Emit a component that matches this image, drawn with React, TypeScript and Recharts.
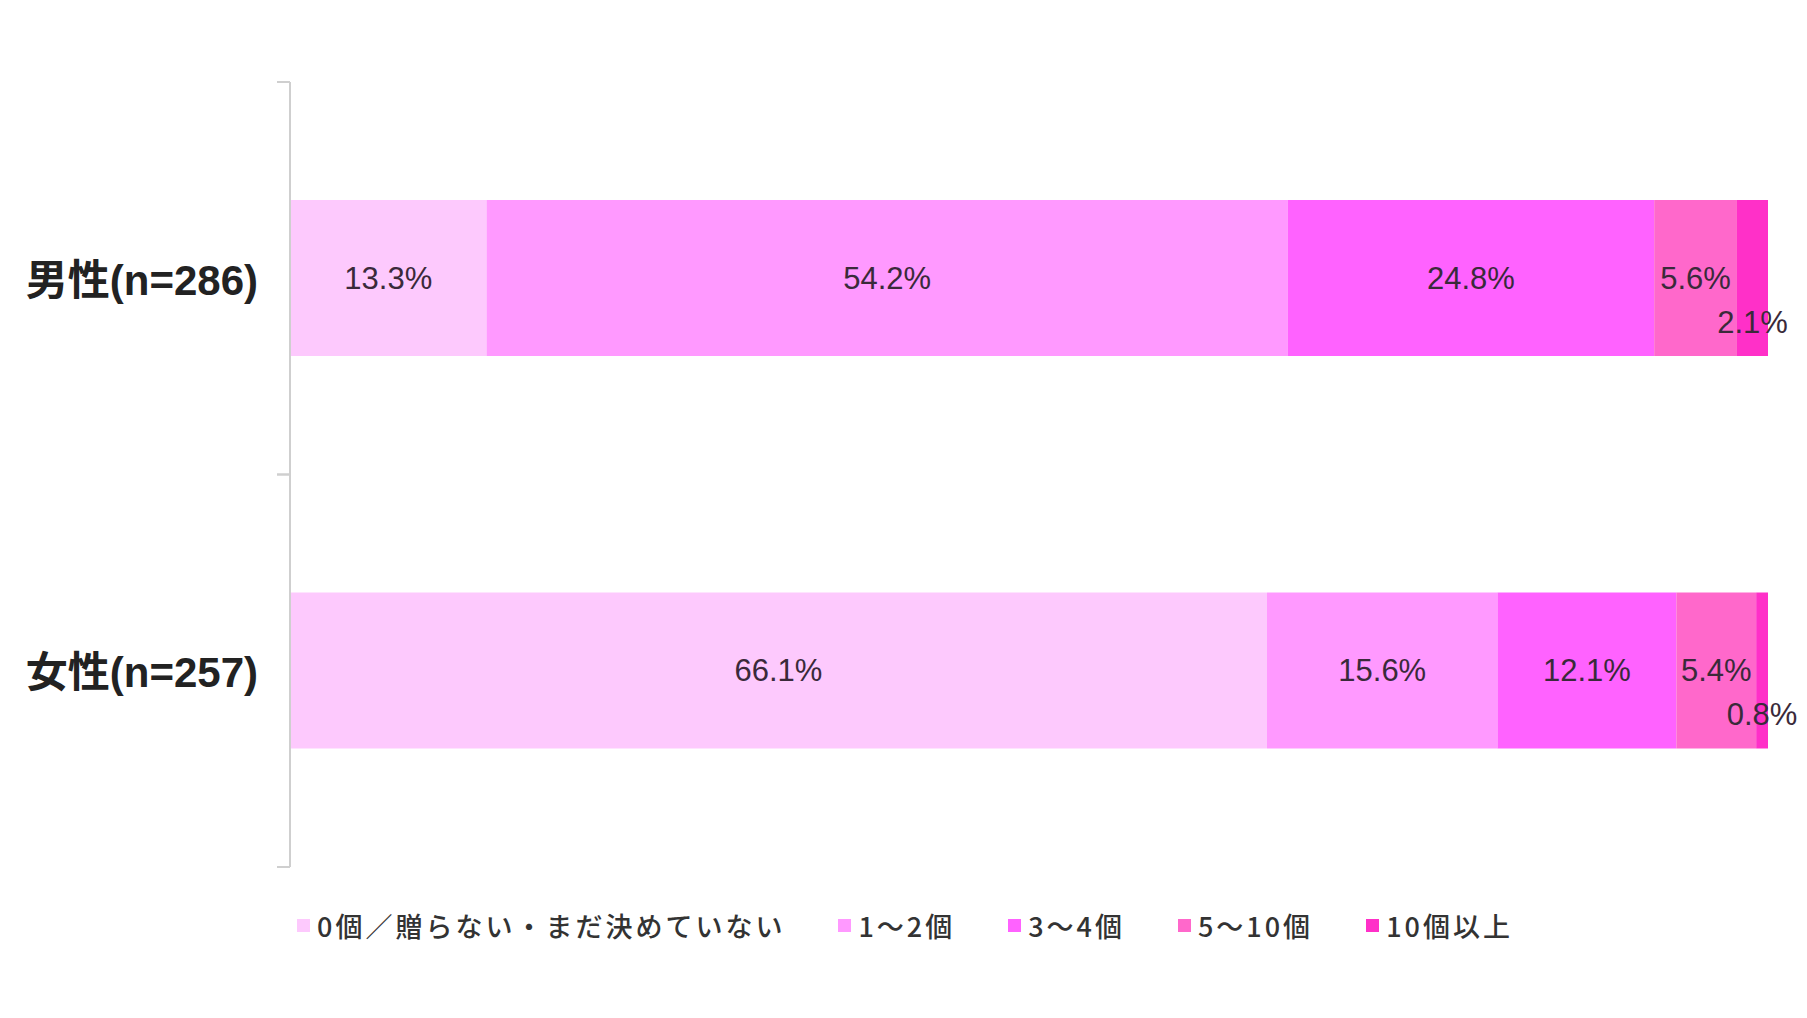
import { BarChart, Bar, XAxis, YAxis, Legend, LabelList } from "recharts";

const categories = ["男性(n=286)", "女性(n=257)"];
const seriesNames = [
  "0個／贈らない・まだ決めていない",
  "1～2個",
  "3～4個",
  "5～10個",
  "10個以上",
];
const zeroOrUndecided = [13.3, 66.1];
const oneToTwo = [54.2, 15.6];
const threeToFour = [24.8, 12.1];
const fiveToTen = [5.6, 5.4];
const tenOrMore = [2.1, 0.8];

const seriesValues = [zeroOrUndecided, oneToTwo, threeToFour, fiveToTen, tenOrMore];
const colors = ["#FDC9FD", "#FF99FF", "#FF62FF", "#FF68CB", "#FF30C8"];

const chartData = categories.map((name, i) => {
  const row: Record<string, string | number> = { name };
  seriesValues.forEach((vals, s) => {
    row[`s${s}`] = vals[i];
  });
  return row;
});

const numFont = "'Liberation Sans', 'Noto Sans CJK JP', sans-serif";
const jpFont = "'Noto Sans CJK JP', 'Liberation Sans', sans-serif";

const TICK_SIZE = 13;
const TICK_MARGIN = 19;

function CategoryTick(props: any) {
  const { x, y, payload } = props;
  const half = payload.offset ?? 196;
  const x1 = x + TICK_MARGIN;
  const x2 = x + TICK_MARGIN + TICK_SIZE;
  return (
    <g>
      <line x1={x1} x2={x2} y1={y - half} y2={y - half} stroke="#cfcfcf" strokeWidth={2} />
      <line x1={x1} x2={x2} y1={y + half} y2={y + half} stroke="#cfcfcf" strokeWidth={2} />
      <text
        x={x}
        y={y + 2}
        textAnchor="end"
        dominantBaseline="central"
        fontFamily={numFont}
        fontWeight="bold"
        fontSize={42}
        fill="#222"
      >
        {payload.value}
      </text>
    </g>
  );
}

const makeLabel = (shiftDown: number) => (props: any) => {
  const { x, y, width, height, value } = props;
  return (
    <text
      x={x + width / 2}
      y={y + height / 2 + shiftDown}
      textAnchor="middle"
      dominantBaseline="central"
      fontFamily={numFont}
      fontSize={31}
      fill="#3a2a3a"
    >
      {`${value}%`}
    </text>
  );
};

function LegendContent() {
  return (
    <div style={{ display: "flex", alignItems: "center" }}>
      {seriesNames.map((name, i) => (
        <div
          key={name}
          style={{ display: "flex", alignItems: "center", marginRight: 53 }}
        >
          <span
            style={{
              width: 13,
              height: 13,
              background: colors[i],
              marginRight: 7,
              display: "inline-block",
            }}
          />
          <span
            style={{
              fontFamily: jpFont,
              fontSize: 27,
              letterSpacing: 3,
              color: "#333",
              fontWeight: 500,
              whiteSpace: "nowrap",
            }}
          >
            {name}
          </span>
        </div>
      ))}
    </div>
  );
}

export default function App() {
  return (
    <div style={{ width: 1799, height: 1010, background: "#fff" }}>
      <BarChart
        width={1799}
        height={1010}
        data={chartData}
        layout="vertical"
        margin={{ top: 74, right: 39, bottom: 151, left: 0 }}
      >
        <XAxis type="number" domain={[0, 100]} hide />
        <YAxis
          type="category"
          dataKey="name"
          width={282}
          axisLine={{ stroke: "#cfcfcf", strokeWidth: 2 }}
          tickLine={false}
          tickSize={TICK_SIZE}
          tickMargin={TICK_MARGIN}
          tick={<CategoryTick />}
        />
        <Legend
          layout="horizontal"
          verticalAlign="middle"
          align="center"
          content={<LegendContent />}
          wrapperStyle={{ top: 898, left: 289, width: 1500 }}
        />
        {seriesNames.map((name, s) => (
          <Bar
            key={name}
            dataKey={`s${s}`}
            name={name}
            stackId="a"
            fill={colors[s]}
            barSize={156}
            isAnimationActive={false}
          >
            <LabelList
              dataKey={`s${s}`}
              content={makeLabel(s === seriesNames.length - 1 ? 44 : 0)}
            />
          </Bar>
        ))}
      </BarChart>
    </div>
  );
}
